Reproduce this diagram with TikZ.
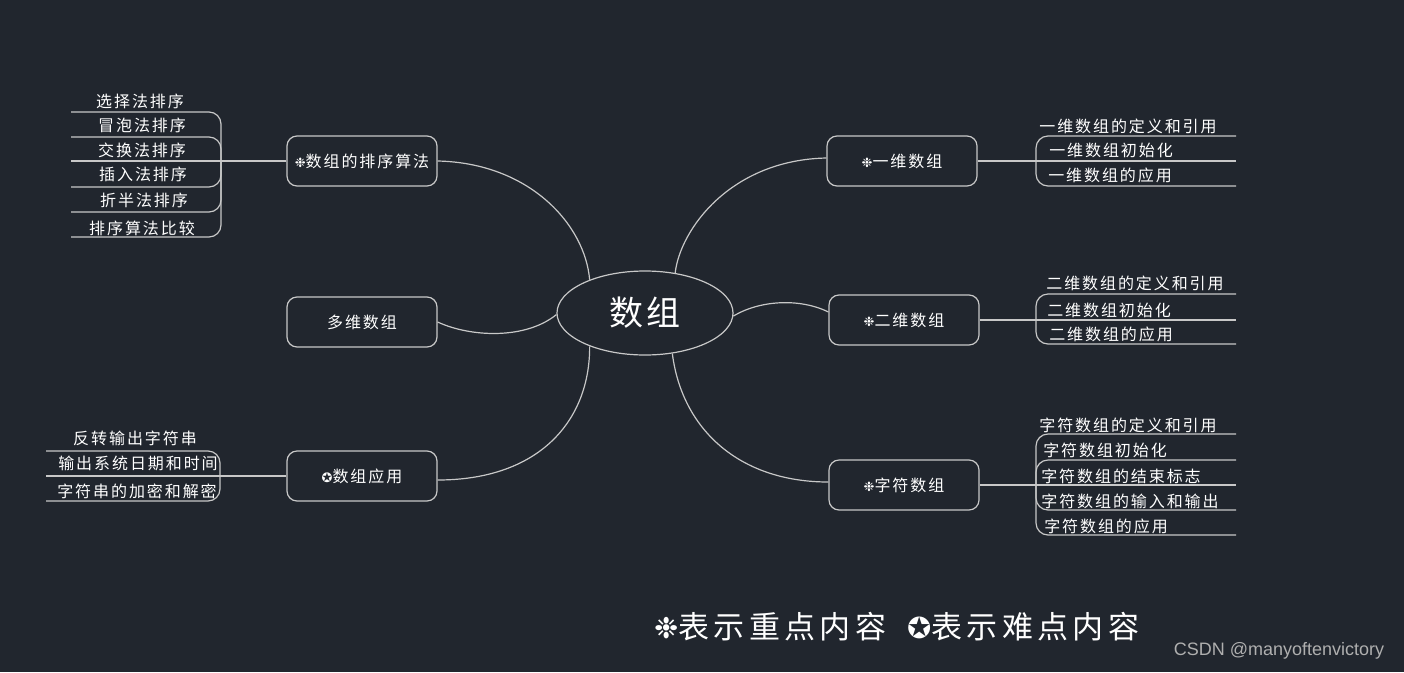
\documentclass[tikz,border=0pt]{standalone}
\usepackage{fontspec}
\setmainfont{Noto Sans CJK SC}
\newfontfamily\cjk[LetterSpace=12]{Noto Sans CJK SC}
\newfontfamily\cjkbig[LetterSpace=10]{Noto Sans CJK SC}
\newfontfamily\cjkleg[LetterSpace=14]{Noto Sans CJK SC}
\newfontfamily\symf{DejaVu Sans}
\newfontfamily\wmf{Liberation Sans}
\usetikzlibrary{shapes.geometric}
\definecolor{bg}{RGB}{33,38,46}
\definecolor{linec}{RGB}{200,200,200}
\definecolor{wmc}{RGB}{175,175,175}
\newcommand{\keyi}{{\symf\fontsize{13}{13}\selectfont ❉}}
\newcommand{\hardi}{{\symf\fontsize{13}{13}\selectfont ✪}}
\tikzset{
  topic/.style={draw=linec, line width=1.2pt, rounded corners=10pt, minimum width=150pt, minimum height=50pt, text=white, font=\cjk\fontsize{16}{19}\selectfont, inner sep=0pt},
  leaf/.style={text=white, font=\cjk\fontsize{16}{19}\selectfont, inner sep=0pt},
  branch/.style={draw=linec, line width=1.2pt},
  brk/.style={draw=linec, line width=1.2pt, rounded corners=12pt},
  legend/.style={text=white, inner sep=0pt, anchor=west, font=\cjkleg\fontsize{31}{36}\selectfont},
}
\begin{document}
\begin{tikzpicture}[x=1pt,y=-1pt]
\fill[bg] (0,0) rectangle (1404,672);
\useasboundingbox (0,0) rectangle (1404,672);

% central topic
\node[ellipse, draw=linec, line width=1.2pt, minimum width=176pt, minimum height=84pt, inner sep=0pt, text=white, font=\cjkbig\fontsize{34}{40}\selectfont] (c) at (645,313) {数组};

% main topics
\node[topic] (sort) at (362,161) {\keyi 数组的排序算法};
\node[topic] (multi) at (362,322) {多维数组};
\node[topic] (app) at (362,476) {\hardi 数组应用};
\node[topic] (one) at (902,161) {\keyi 一维数组};
\node[topic] (two) at (904,320) {\keyi 二维数组};
\node[topic] (chr) at (904,485) {\keyi 字符数组};

% connectors centre -> topics
\draw[branch] (c.149) .. controls (585,225) and (530,163) .. (sort.east);
\draw[branch] (c.181) .. controls (525,340) and (470,337) .. (multi.east);
\draw[branch] (c.211) .. controls (590,420) and (540,480) .. ([yshift=-4pt]app.east);
\draw[branch] (c.53) .. controls (680,230) and (730,160) .. ([yshift=3pt]one.west);
\draw[branch] (c.358) .. controls (760,300) and (800,298) .. ([yshift=8pt]two.west);
\draw[branch] (c.304) .. controls (682,430) and (740,482) .. ([yshift=3pt]chr.west);

% ---- sort leaves
\coordinate (sb) at (221,161);
\draw[branch] (sort.west) -- (71,161);
\draw[brk] (71,112) -| (sb);
\draw[brk] (71,137) -| (sb);
\draw[brk] (71,187) -| (sb);
\draw[brk] (71,212) -| (sb);
\draw[brk] (71,237) -| (sb);
\node[leaf] (s1) at (140,101) {选择法排序};
\node[leaf] (s2) at (142,125) {冒泡法排序};
\node[leaf] (s3) at (142,150) {交换法排序};
\node[leaf] (s4) at (143,174) {插入法排序};
\node[leaf] (s5) at (144,200) {折半法排序};
\node[leaf] (s6) at (142,228) {排序算法比较};

% ---- app leaves
\coordinate (ab) at (220,476);
\draw[branch] (app.west) -- (46,476);
\draw[brk] (46,451) -| (ab);
\draw[brk] (46,501) -| (ab);
\node[leaf] (a1) at (135,438) {反转输出字符串};
\node[leaf] (a2) at (138,463) {输出系统日期和时间};
\node[leaf] (a3) at (137,491) {字符串的加密和解密};

% ---- one-dim leaves
\coordinate (ob) at (1036,161);
\draw[branch] (one.east) -- (1236,161);
\draw[brk] (1236,136) -| (ob);
\draw[brk] (1236,186) -| (ob);
\node[leaf] (o1) at (1128,126) {一维数组的定义和引用};
\node[leaf] (o2) at (1111,150) {一维数组初始化};
\node[leaf] (o3) at (1110,175) {一维数组的应用};

% ---- two-dim leaves
\coordinate (tb) at (1036,320);
\draw[branch] (two.east) -- (1236,320);
\draw[brk] (1236,294) -| (tb);
\draw[brk] (1236,344) -| (tb);
\node[leaf] (t1) at (1135,283) {二维数组的定义和引用};
\node[leaf] (t2) at (1109,310) {二维数组初始化};
\node[leaf] (t3) at (1111,334) {二维数组的应用};

% ---- char leaves
\coordinate (cb) at (1036,485);
\draw[branch] (chr.east) -- (1236,485);
\draw[brk] (1236,434) -| (cb);
\draw[brk] (1236,460) -| (cb);
\draw[brk] (1236,510) -| (cb);
\draw[brk] (1236,535) -| (cb);
\node[leaf] (k1) at (1128,425) {字符数组的定义和引用};
\node[leaf] (k2) at (1105,450) {字符数组初始化};
\node[leaf] (k3) at (1121,476) {字符数组的结束标志};
\node[leaf] (k4) at (1130,501) {字符数组的输入和输出};
\node[leaf] (k5) at (1106,526) {字符数组的应用};

% ---- legend
\node[legend] (lg1) at (654,627) {{\symf\fontsize{29}{29}\selectfont ❉}表示重点内容};
\node[legend] (lg2) at (907,627) {{\symf\fontsize{29}{29}\selectfont ✪}表示难点内容};

% ---- watermark
\node[text=wmc, inner sep=0pt, font=\wmf\fontsize{18}{21}\selectfont] (wm) at (1279,651) {CSDN @manyoftenvictory};
\end{tikzpicture}
\end{document}
